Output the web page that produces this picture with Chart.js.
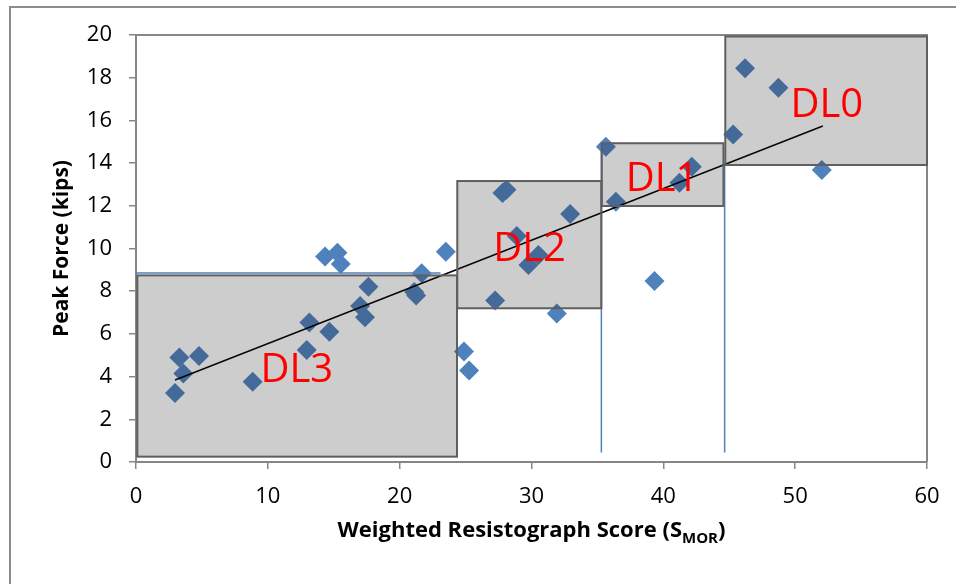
<!DOCTYPE html>
<html>
<head>
<meta charset="utf-8">
<script src="https://cdn.jsdelivr.net/npm/chart.js@4.4.1/dist/chart.umd.min.js"></script>
<style>
  html, body { margin: 0; padding: 0; background: #fff; }
  #wrap { width: 956px; height: 584px; }
</style>
</head>
<body>
<div id="wrap"><canvas id="peakChart" width="956" height="584"></canvas></div>
<script>
// Specimens: weighted resistograph score vs peak force
const scoreX = [2.96, 3.29, 3.59, 4.78, 8.85, 12.95, 13.15, 14.67, 14.34, 15.28, 15.53, 17.0, 17.37, 17.63,
                21.1, 21.25, 21.67, 23.5, 24.88, 25.27, 27.24, 27.8, 28.1, 28.88, 29.77, 30.52, 31.92, 32.93,
                35.64, 36.4, 39.33, 41.22, 42.16, 45.3, 46.2, 48.73, 52.02];
const peakForce = [3.23, 4.9, 4.15, 4.96, 3.76, 5.25, 6.53, 6.1, 9.62, 9.8, 9.27, 7.31, 6.78, 8.21,
                   7.96, 7.8, 8.84, 9.85, 5.17, 4.28, 7.56, 12.6, 12.75, 10.59, 9.23, 9.7, 6.96, 11.62,
                   14.77, 12.19, 8.48, 13.08, 13.83, 15.34, 18.44, 17.53, 13.68];

// Linear trend line end points
const trendX = [2.96, 52.1];
const trendY = [3.84, 15.74];

// Damage level zones: [xMin, xMax, yMin, yMax]
const zoneNames = ['DL3', 'DL2', 'DL1', 'DL0'];
const zoneBounds = [
    [0.1, 24.35, 0.25, 8.74],
    [24.37, 35.3, 7.2, 13.16],
    [35.33, 44.56, 11.99, 14.93],
    [44.7, 60, 13.91, 19.93]
];
// label anchor (centre x, baseline y)
const zoneLabelX = [12.2, 29.85, 39.9, 52.4];
const zoneLabelY = [3.76, 9.43, 12.71, 16.14];

// Blue threshold lines
const limitLines = [
    [{x: 0, y: 8.85}, {x: 23.1, y: 8.85}],
    [{x: 35.3, y: 0.44}, {x: 35.3, y: 14.9}],
    [{x: 44.65, y: 0.44}, {x: 44.65, y: 13.9}]
];

const xTicks = [0, 10, 20, 30, 40, 50, 60];
const yTicks = [0, 2, 4, 6, 8, 10, 12, 14, 16, 18, 20];

const points = scoreX.map((x, i) => ({x: x, y: peakForce[i]}));
const trend = trendX.map((x, i) => ({x: x, y: trendY[i]}));

const zonePlugin = {
    id: 'zones',
    beforeDraw(chart) {
        const ctx = chart.ctx;
        ctx.save();
        ctx.strokeStyle = '#8c8c8c';
        ctx.lineWidth = 2;
        ctx.beginPath();
        ctx.moveTo(10, 600);
        ctx.lineTo(10, 7);
        ctx.lineTo(970, 7);
        ctx.stroke();
        ctx.restore();
    },
    afterDatasetsDraw(chart) {
        const ctx = chart.ctx;
        const xs = chart.scales.x, ys = chart.scales.y;
        const area = chart.chartArea;
        ctx.save();
        // plot frame top and right
        ctx.strokeStyle = '#868686';
        ctx.lineWidth = 2;
        ctx.beginPath();
        ctx.moveTo(area.left, area.top);
        ctx.lineTo(area.right, area.top);
        ctx.lineTo(area.right, area.bottom);
        ctx.stroke();

        zoneBounds.forEach(b => {
            const x0 = xs.getPixelForValue(b[0]);
            const x1 = xs.getPixelForValue(b[1]);
            const y0 = ys.getPixelForValue(b[3]);
            const y1 = ys.getPixelForValue(b[2]);
            ctx.fillStyle = 'rgba(26, 26, 26, 0.22)';
            ctx.fillRect(x0, y0, x1 - x0, y1 - y0);
            ctx.strokeStyle = '#5f5f5f';
            ctx.lineWidth = 2;
            ctx.strokeRect(x0, y0, x1 - x0, y1 - y0);
        });

        ctx.fillStyle = '#ff0000';
        ctx.font = '40px "Open Sans"';
        ctx.textAlign = 'center';
        ctx.textBaseline = 'alphabetic';
        zoneNames.forEach((name, i) => {
            ctx.fillText(name, xs.getPixelForValue(zoneLabelX[i]), ys.getPixelForValue(zoneLabelY[i]));
        });
        ctx.restore();
    },
    afterDraw(chart) {
        const ctx = chart.ctx;
        const area = chart.chartArea;
        ctx.save();
        ctx.fillStyle = '#000';
        ctx.textBaseline = 'alphabetic';

        // x axis title with subscript
        const mainFont = 'bold 22px "Open Sans"';
        const subFont = 'bold 15px "Open Sans"';
        const part1 = 'Weighted Resistograph Score (S';
        const sub = 'MOR';
        const part2 = ')';
        ctx.font = mainFont;
        const w1 = ctx.measureText(part1).width;
        const w3 = ctx.measureText(part2).width;
        ctx.font = subFont;
        const w2 = ctx.measureText(sub).width;
        let x = (area.left + area.right) / 2 - (w1 + w2 + w3) / 2;
        const base = 537;
        ctx.textAlign = 'left';
        ctx.font = mainFont;
        ctx.fillText(part1, x, base);
        ctx.font = subFont;
        ctx.fillText(sub, x + w1, base + 6);
        ctx.font = mainFont;
        ctx.fillText(part2, x + w1 + w2, base);

        // y axis title
        ctx.translate(68, (area.top + area.bottom) / 2);
        ctx.rotate(-Math.PI / 2);
        ctx.textAlign = 'center';
        ctx.font = 'bold 21px "Open Sans"';
        ctx.fillText('Peak Force (kips)', 0, 0);
        ctx.restore();
    }
};

const axisStyle = {
    grid: {
        drawOnChartArea: false,
        drawTicks: true,
        tickLength: 7,
        color: '#868686',
        lineWidth: 1.5
    },
    border: { color: '#868686', width: 2 }
};

new Chart(document.getElementById('peakChart'), {
    type: 'scatter',
    data: {
        datasets: [
            {
                label: 'Trend',
                type: 'line',
                data: trend,
                borderColor: '#000',
                borderWidth: 1.5,
                pointRadius: 0,
                fill: false
            },
            {
                label: 'Specimens',
                data: points,
                pointStyle: 'rectRot',
                pointRadius: 10,
                pointHoverRadius: 10,
                backgroundColor: '#4f81bd',
                borderColor: '#4f81bd',
                borderWidth: 0
            },
            ...limitLines.map((seg, i) => ({
                label: 'Limit ' + i,
                type: 'line',
                data: seg,
                borderColor: '#4f81bd',
                borderWidth: 1.5,
                pointRadius: 0,
                fill: false
            }))
        ]
    },
    options: {
        responsive: false,
        animation: false,
        events: [],
        layout: { padding: { top: 35, right: 29, bottom: 0, left: 0 } },
        plugins: {
            legend: { display: false },
            tooltip: { enabled: false }
        },
        scales: {
            x: {
                type: 'linear',
                min: 0,
                max: 60,
                afterBuildTicks: s => { s.ticks = xTicks.map(v => ({value: v})); },
                afterFit: s => { s.height = 122; },
                ticks: {
                    font: { family: 'Open Sans', size: 22 },
                    color: '#000',
                    padding: 15
                },
                ...axisStyle
            },
            y: {
                type: 'linear',
                min: 0,
                max: 20,
                afterBuildTicks: s => { s.ticks = yTicks.map(v => ({value: v})); },
                afterFit: s => { s.width = 136; },
                ticks: {
                    font: { family: 'Open Sans', size: 22 },
                    color: '#000',
                    padding: 17
                },
                ...axisStyle
            }
        }
    },
    plugins: [zonePlugin]
});
</script>
</body>
</html>
